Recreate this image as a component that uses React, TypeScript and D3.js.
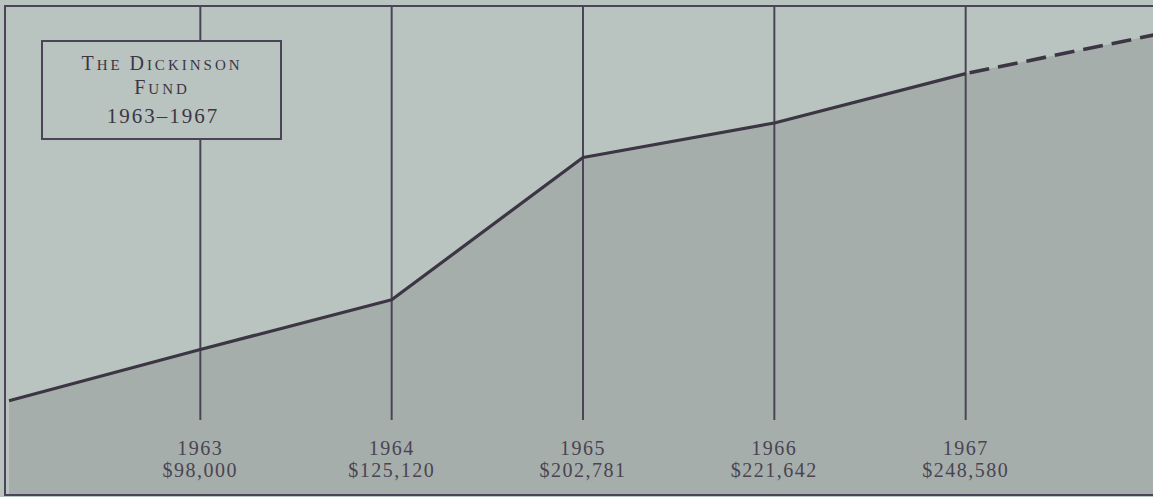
import React from 'react';
import * as d3 from 'd3';

// fund totals, one per year
const years = [1963, 1964, 1965, 1966, 1967];
const amounts = [98000, 125120, 202781, 221642, 248580];
const amountLabels = ['$98,000', '$125,120', '$202,781', '$221,642', '$248,580'];
// line runs in from the left edge and is projected past 1967 (dashed)
const leadIn = { year: 1962, value: 70000 };
const projected = { year: 1968, value: 270000 };

const titleLines = [
  [['T', true], ['HE ', false], ['D', true], ['ICKINSON', false]],
  [['F', true], ['UND', false]],
];
const titleRange = '1963–1967';

const W = 1153;
const H = 497;
const ink = '#3c3644';
const rule = '#4b4457';
const paper = '#b9c4c0';
const shade = '#a6aeab';
const font = '"Liberation Serif", "DejaVu Serif", serif';

const App = () => {
  const x = d3.scaleLinear().domain([1962, 1968]).range([9, 1157]);
  const y = d3.scaleLinear().domain([0, 250000]).range([529, 71]);

  const pts = [leadIn, ...years.map((yr, i) => ({ year: yr, value: amounts[i] }))];
  const line = d3.line<any>().x(d => x(d.year)).y(d => y(d.value));
  const area = d3.area<any>().x(d => x(d.year)).y0(495).y1(d => y(d.value));
  const last = pts[pts.length - 1];

  return (
    <div style={{ position: 'absolute', left: 0, top: 0 }}>
      <svg width={W} height={H} style={{ display: 'block' }}>
        <rect x={0} y={0} width={W} height={H} fill={paper} />
        {/* shaded area under the line, incl. projection */}
        <path d={area([...pts, projected]) as string} fill={shade} />

        {/* year rules */}
        {years.map(yr => (
          <line key={yr} x1={x(yr)} x2={x(yr)} y1={6} y2={420} stroke={rule} strokeWidth={2} />
        ))}

        {/* frame */}
        <path d={`M${W},6H5V495H${W}`} fill="none" stroke={rule} strokeWidth={2} />

        {/* fund line */}
        <path d={line(pts) as string} fill="none" stroke={ink} strokeWidth={3.2} strokeLinejoin="round" />
        <path d={line([last, projected]) as string} fill="none" stroke={ink} strokeWidth={3.6}
          strokeDasharray="20 9" strokeDashoffset={-4} />

        {/* year / amount labels */}
        {years.map((yr, i) => (
          <g key={'l' + yr} fontFamily={font} fill="#4a4452" textAnchor="middle" fontSize={20} letterSpacing={1.5}>
            <text x={x(yr)} y={455}>{yr}</text>
            <text x={x(yr)} y={477}>{amountLabels[i]}</text>
          </g>
        ))}

        {/* title box */}
        <rect x={42} y={41} width={239} height={98} fill={paper} stroke={rule} strokeWidth={2} />
        <g fontFamily={font} fill={ink} textAnchor="middle">
          {titleLines.map((ln, i) => (
            <text key={i} x={162} y={70 + i * 24} letterSpacing={3}>
              {ln.map(([s, big], j) => (
                <tspan key={j} fontSize={big ? 20 : 15}>{s as string}</tspan>
              ))}
            </text>
          ))}
          <text x={163} y={123} fontSize={21} letterSpacing={2}>{titleRange}</text>
        </g>
      </svg>
    </div>
  );
};

export default App;
